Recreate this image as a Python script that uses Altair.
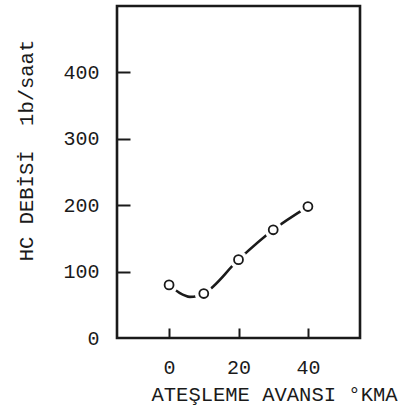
import altair as alt
import pandas as pd

# measured points
pt_x = [0, 10, 20, 30, 40]
pt_y = [80, 67, 118, 163, 198]
# hand-drawn curve through the points
cv_x = [0, 3, 6, 8, 10, 20, 30, 40]
cv_y = [80, 68, 62, 63, 67, 118, 163, 198]

x_ticks = [0, 20, 40]
y_labels = [0, 100, 200, 300, 400]
y_ticks = [100, 200, 300, 400]

pts = pd.DataFrame({"x": pt_x, "y": pt_y})
cv = pd.DataFrame({"x": cv_x, "y": cv_y})

FONT = "Liberation Mono"
INK = "#1a1a1a"

xs = alt.Scale(domain=[-15, 55], nice=False, zero=False)
ys = alt.Scale(domain=[0, 500], nice=False)

line = alt.Chart(cv).mark_line(color=INK, strokeWidth=2.6, interpolate="monotone").encode(
    x=alt.X("x:Q", scale=xs, axis=alt.Axis(
        orient="bottom", values=x_ticks, ticks=False, domain=False, grid=False,
        labelFont=FONT, labelFontSize=20, labelColor=INK, labelPadding=19,
        title="ATEŞLEME AVANSI °KMA", titleFont=FONT, titleFontSize=20.5,
        titleFontWeight="normal", titleColor=INK, titleAlign="left",
        titleX=34, titleY=46, titleBaseline="top")),
    y=alt.Y("y:Q", scale=ys, axis=alt.Axis(
        orient="left", values=y_labels, ticks=False, domain=False, grid=False,
        labelFont=FONT, labelFontSize=20, labelColor=INK, labelPadding=18,
        title="HC DEBİSİ\u00a0 1b/saat", titleFont=FONT, titleFontSize=20.5,
        titleFontWeight="normal", titleColor=INK, titleAlign="center",
        titleBaseline="middle", titleX=-91, titleY=144, titleAngle=-90)),
)

halo = alt.Chart(pts).mark_point(shape="circle", filled=True, color="white", opacity=1, size=330).encode(
    x=alt.X("x:Q", scale=xs, axis=alt.Axis(
        orient="bottom", values=x_ticks, labels=False, domain=False, grid=False,
        ticks=True, tickSize=10, tickWidth=2, tickColor=INK, offset=-10, title=None)),
    y=alt.Y("y:Q", scale=ys, axis=alt.Axis(
        orient="left", values=y_ticks, labels=False, domain=False, grid=False,
        ticks=True, tickSize=13, tickWidth=2, tickColor=INK, offset=-13, title=None)),
)

circ = alt.Chart(pts).mark_point(shape="circle", filled=False, color=INK, strokeWidth=1.8, size=80, opacity=1).encode(
    x=alt.X("x:Q", scale=xs, axis=None),
    y=alt.Y("y:Q", scale=ys, axis=None),
)

chart = alt.layer(line, halo, circ).resolve_axis(x="independent", y="independent").properties(
    width=243, height=332,
    autosize=alt.AutoSizeParams(type="none"),
    padding={"left": 117, "top": 6, "right": 46, "bottom": 72},
    background="white",
).configure_view(stroke=INK, strokeWidth=2.6)

chart.save("out.html", embed_options={"renderer": "svg", "actions": False})
